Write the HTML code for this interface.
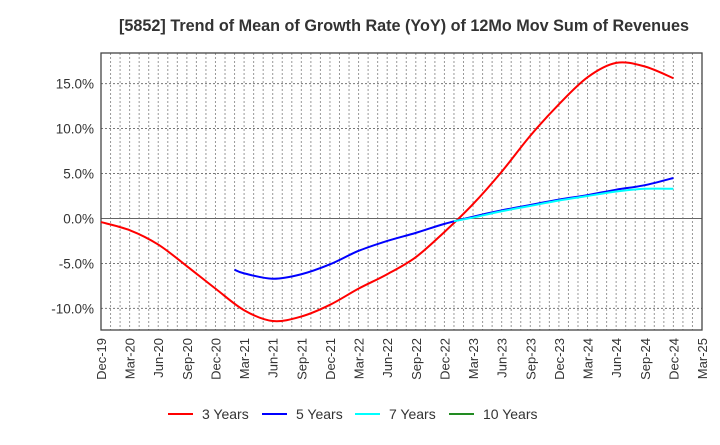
<!DOCTYPE html>
<html><head><meta charset="utf-8"><style>
body{margin:0;background:#fff;}
svg text{font-family:"Liberation Sans",Arial,sans-serif;}
</style></head><body>
<svg id="chart" width="720" height="440" xmlns="http://www.w3.org/2000/svg">
<text x="404" y="31" text-anchor="middle" font-size="16.2" font-weight="bold" fill="#333">[5852]  Trend of Mean of Growth Rate (YoY) of 12Mo Mov Sum of Revenues</text>
<g id="grid"></g>
<g id="axes"></g>
<g id="series"></g>
<g id="legend"></g>
</svg>
<script>
const xTickLabels=["Dec-19","Mar-20","Jun-20","Sep-20","Dec-20","Mar-21","Jun-21","Sep-21","Dec-21","Mar-22","Jun-22","Sep-22","Dec-22","Mar-23","Jun-23","Sep-23","Dec-23","Mar-24","Jun-24","Sep-24","Dec-24","Mar-25"];
const yTicks=[-10,-5,0,5,10,15];
// months since Dec-19 for each value
const months3=[0,3,6,9,12,15,18,21,24,27,30,33,36,39,42,45,48,51,54,57,60];
const vals3=[-0.4,-1.3,-2.9,-5.3,-7.8,-10.2,-11.4,-10.9,-9.6,-7.8,-6.2,-4.3,-1.5,1.6,5.2,9.2,12.7,15.7,17.3,16.9,15.6];
const months5=[14,15,18,21,24,27,30,33,36,39,42,45,48,51,54,57,60];
const vals5=[-5.7,-6.1,-6.7,-6.2,-5.1,-3.6,-2.5,-1.6,-0.6,0.2,0.9,1.5,2.1,2.6,3.2,3.7,4.5];
const months7=[37,39,42,45,48,51,54,57,60];
const vals7=[-0.3,0.1,0.8,1.4,2.0,2.5,3.0,3.3,3.3];
const months10=[];
const vals10=[];
const NS="http://www.w3.org/2000/svg";
const L=101,R=702,T=53,B=330,X0=0,X1=63,Y0=-12.4,Y1=18.4;
const xs=m=>L+(m-X0)/(X1-X0)*(R-L);
const ys=v=>B-(v-Y0)/(Y1-Y0)*(B-T);
function mk(tag,attrs,parent){const e=document.createElementNS(NS,tag);for(const k in attrs)e.setAttribute(k,attrs[k]);parent.appendChild(e);return e;}
const grid=document.getElementById('grid'),axes=document.getElementById('axes'),ser=document.getElementById('series'),leg=document.getElementById('legend');
for(let m=1;m<X1;m++){const l=mk('line',{x1:xs(m),x2:xs(m),y1:T,y2:B,stroke:'#999','stroke-dasharray':'2,2','stroke-width':1},grid);

}
yTicks.forEach(v=>{const l=mk('line',{x1:L,x2:R,y1:ys(v),y2:ys(v),stroke:v===0?'#666':'#777','stroke-dasharray':v===0?'':'2,2','stroke-width':1},grid);


const t=mk('text',{x:L-7,y:ys(v)+5,'text-anchor':'end','font-size':13.5,fill:'#333'},axes);t.textContent=v.toFixed(1)+'%';

});
const fr=mk('rect',{x:L,y:T,width:R-L,height:B-T,fill:'none',stroke:'#444','stroke-width':1.3},axes);


xTickLabels.forEach((s,i)=>{const x=xs(i*3)+5;const t=mk('text',{x:x,y:338,'text-anchor':'end','font-size':13,fill:'#333',transform:`rotate(-90 ${x} 338)`},axes);t.textContent=s;

});
function pathFor(ms,vs){const p=ms.map((m,i)=>[xs(m),ys(vs[i])]);if(!p.length)return'';let d=`M${p[0][0]},${p[0][1]}`;
for(let i=0;i<p.length-1;i++){const p0=p[i-1]||p[i],p1=p[i],p2=p[i+1],p3=p[i+2]||p2;
d+=` C${p1[0]+(p2[0]-p0[0])/6},${p1[1]+(p2[1]-p0[1])/6} ${p2[0]-(p3[0]-p1[0])/6},${p2[1]-(p3[1]-p1[1])/6} ${p2[0]},${p2[1]}`;}return d;}
const S=[["3 Years",months3,vals3,"#ff0000"],["5 Years",months5,vals5,"#0000ff"],["7 Years",months7,vals7,"#00ffff"],["10 Years",months10,vals10,"#228b22"]];
S.forEach((s,i)=>{if(s[1].length){const p=mk('path',{d:pathFor(s[1],s[2]),fill:'none',stroke:s[3],'stroke-width':2},ser);

}
const lx=[168,262,355,449][i];
const ll=mk('line',{x1:lx,x2:lx+25,y1:414,y2:414,stroke:s[3],'stroke-width':2},leg);


const t=mk('text',{x:lx+34,y:419,'font-size':14,fill:'#333'},leg);t.textContent=s[0];

});
</script>
</body></html>
